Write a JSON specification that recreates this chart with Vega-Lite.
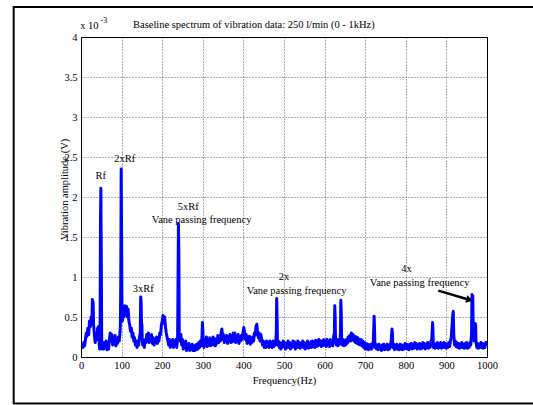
{
"$schema": "https://vega.github.io/schema/vega-lite/v6.json",
"width": 406, "height": 320,
"autosize": "none",
"padding": {"left": 81, "top": 37, "right": 46, "bottom": 48},
"background": "white",
"resolve": {"axis": {"x": "independent", "y": "independent"}},
"config": {
 "view": {"stroke": "black", "strokeWidth": 1},
 "font": "Liberation Serif",
 "axis": {"labelFont": "Liberation Serif", "labelFontSize": 10.5, "labelColor": "black", "titleFont": "Liberation Serif", "titleFontSize": 10.5, "titleFontWeight": "normal", "titleColor": "black", "grid": true, "gridColor": "#000000", "gridDash": [1, 2], "gridOpacity": 0.8, "gridWidth": 0.8, "domain": false, "ticks": false, "tickSize": 0, "labelPadding": 4, "labelFlush": false, "labelOverlap": false}
},
"datasets": {
 "one": [{}],
 "spectrum": [
{"f":3,"v":0.15},{"f":5,"v":0.12},{"f":7,"v":0.18},{"f":9,"v":0.14},{"f":11,"v":0.22},{"f":13,"v":0.3},{"f":15,"v":0.26},{"f":17,"v":0.36},{"f":19,"v":0.28},{"f":21,"v":0.45},{"f":23,"v":0.38},{"f":25,"v":0.5},{"f":27,"v":0.42},{"f":28,"v":0.72},{"f":30,"v":0.68},{"f":31,"v":0.4},{"f":33,"v":0.28},{"f":35,"v":0.18},{"f":37,"v":0.3},{"f":39,"v":0.22},{"f":41,"v":0.36},{"f":43,"v":0.38},{"f":45,"v":0.15},{"f":46,"v":0.1},{"f":47,"v":0.3},{"f":48,"v":1.74},{"f":49,"v":2.11},{"f":50,"v":1.2},{"f":51,"v":0.2},{"f":52,"v":0.1},
{"f":54,"v":0.15},{"f":56,"v":0.1},{"f":58,"v":0.18},{"f":60,"v":0.12},{"f":62,"v":0.2},{"f":64,"v":0.09},{"f":66,"v":0.15},{"f":68,"v":0.1},{"f":70,"v":0.22},{"f":72,"v":0.3},{"f":74,"v":0.2},{"f":76,"v":0.28},{"f":78,"v":0.15},{"f":80,"v":0.25},{"f":82,"v":0.18},{"f":84,"v":0.27},{"f":86,"v":0.14},{"f":88,"v":0.22},{"f":90,"v":0.17},{"f":92,"v":0.25},{"f":94,"v":0.2},{"f":96,"v":0.3},{"f":97,"v":0.4},{"f":98,"v":1.0},{"f":99,"v":2.35},{"f":100,"v":1.5},{"f":101,"v":0.5},
{"f":102,"v":0.45},{"f":104,"v":0.62},{"f":106,"v":0.5},{"f":108,"v":0.64},{"f":110,"v":0.55},{"f":112,"v":0.63},{"f":114,"v":0.5},{"f":116,"v":0.6},{"f":118,"v":0.45},{"f":120,"v":0.4},{"f":122,"v":0.32},{"f":124,"v":0.36},{"f":126,"v":0.25},{"f":128,"v":0.3},{"f":130,"v":0.2},{"f":132,"v":0.24},{"f":134,"v":0.15},{"f":136,"v":0.2},{"f":138,"v":0.12},{"f":140,"v":0.2},{"f":142,"v":0.15},{"f":144,"v":0.25},{"f":146,"v":0.3},{"f":147,"v":0.75},{"f":148,"v":0.7},{"f":149,"v":0.43},{"f":150,"v":0.4},{"f":151,"v":0.2},
{"f":152,"v":0.15},{"f":154,"v":0.2},{"f":156,"v":0.12},{"f":158,"v":0.22},{"f":160,"v":0.18},{"f":162,"v":0.28},{"f":164,"v":0.2},{"f":166,"v":0.3},{"f":168,"v":0.18},{"f":170,"v":0.26},{"f":172,"v":0.2},{"f":174,"v":0.28},{"f":176,"v":0.17},{"f":178,"v":0.24},{"f":180,"v":0.15},{"f":182,"v":0.22},{"f":184,"v":0.18},{"f":186,"v":0.25},{"f":188,"v":0.17},{"f":190,"v":0.22},{"f":192,"v":0.2},{"f":194,"v":0.3},{"f":196,"v":0.28},{"f":198,"v":0.4},{"f":200,"v":0.45},{"f":202,"v":0.52},{"f":204,"v":0.42},{"f":206,"v":0.5},{"f":208,"v":0.38},{"f":210,"v":0.3},{"f":212,"v":0.25},{"f":214,"v":0.2},{"f":216,"v":0.15},{"f":218,"v":0.22},{"f":220,"v":0.12},{"f":222,"v":0.2},{"f":224,"v":0.15},{"f":226,"v":0.22},{"f":228,"v":0.12},{"f":230,"v":0.2},{"f":232,"v":0.15},{"f":234,"v":0.22},{"f":236,"v":0.12},{"f":238,"v":0.25},{"f":240,"v":1.67},{"f":241,"v":1.3},{"f":242,"v":0.25},
{"f":244,"v":0.2},{"f":246,"v":0.28},{"f":248,"v":0.15},{"f":250,"v":0.22},{"f":252,"v":0.1},{"f":254,"v":0.18},{"f":256,"v":0.12},{"f":258,"v":0.2},{"f":260,"v":0.08},{"f":262,"v":0.15},{"f":264,"v":0.1},{"f":266,"v":0.17},{"f":268,"v":0.08},{"f":270,"v":0.14},{"f":272,"v":0.09},{"f":274,"v":0.16},{"f":276,"v":0.08},{"f":278,"v":0.13},{"f":280,"v":0.08},{"f":282,"v":0.15},{"f":284,"v":0.09},{"f":286,"v":0.16},{"f":288,"v":0.1},{"f":290,"v":0.18},{"f":292,"v":0.12},{"f":294,"v":0.2},{"f":296,"v":0.14},{"f":298,"v":0.25},{"f":299,"v":0.43},{"f":300,"v":0.35},{"f":301,"v":0.2},
{"f":303,"v":0.12},{"f":305,"v":0.22},{"f":307,"v":0.15},{"f":309,"v":0.25},{"f":311,"v":0.13},{"f":313,"v":0.22},{"f":315,"v":0.15},{"f":317,"v":0.24},{"f":319,"v":0.14},{"f":321,"v":0.22},{"f":323,"v":0.16},{"f":325,"v":0.25},{"f":327,"v":0.15},{"f":329,"v":0.23},{"f":331,"v":0.14},{"f":333,"v":0.22},{"f":335,"v":0.17},{"f":337,"v":0.27},{"f":339,"v":0.18},{"f":341,"v":0.25},{"f":343,"v":0.2},{"f":345,"v":0.3},{"f":347,"v":0.35},{"f":349,"v":0.22},{"f":351,"v":0.28},{"f":353,"v":0.18},{"f":355,"v":0.26},{"f":357,"v":0.2},{"f":359,"v":0.27},{"f":361,"v":0.17},{"f":363,"v":0.25},{"f":365,"v":0.2},{"f":367,"v":0.28},{"f":369,"v":0.18},{"f":371,"v":0.26},{"f":373,"v":0.19},{"f":375,"v":0.3},{"f":377,"v":0.2},{"f":379,"v":0.3},{"f":381,"v":0.18},{"f":383,"v":0.26},{"f":385,"v":0.2},{"f":387,"v":0.28},{"f":389,"v":0.17},{"f":391,"v":0.25},{"f":393,"v":0.2},{"f":395,"v":0.27},{"f":397,"v":0.22},{"f":399,"v":0.3},{"f":401,"v":0.37},{"f":403,"v":0.3},{"f":405,"v":0.22},{"f":407,"v":0.28},{"f":409,"v":0.17},{"f":411,"v":0.25},{"f":413,"v":0.18},{"f":415,"v":0.26},{"f":417,"v":0.16},{"f":419,"v":0.24},{"f":421,"v":0.18},{"f":423,"v":0.25},{"f":425,"v":0.2},{"f":427,"v":0.3},{"f":429,"v":0.27},{"f":431,"v":0.38},{"f":433,"v":0.41},{"f":435,"v":0.3},{"f":437,"v":0.24},{"f":439,"v":0.3},{"f":441,"v":0.2},{"f":443,"v":0.28},{"f":445,"v":0.22},{"f":447,"v":0.15},{"f":449,"v":0.2},{"f":451,"v":0.12},{"f":453,"v":0.18},{"f":455,"v":0.12},{"f":457,"v":0.2},{"f":459,"v":0.13},{"f":461,"v":0.18},{"f":463,"v":0.12},{"f":465,"v":0.2},{"f":467,"v":0.13},{"f":469,"v":0.18},{"f":471,"v":0.12},{"f":473,"v":0.2},{"f":475,"v":0.13},{"f":477,"v":0.18},{"f":479,"v":0.15},{"f":481,"v":0.3},{"f":482,"v":0.73},{"f":483,"v":0.5},{"f":484,"v":0.15},
{"f":486,"v":0.2},{"f":488,"v":0.12},{"f":490,"v":0.18},{"f":492,"v":0.1},{"f":494,"v":0.17},{"f":496,"v":0.12},{"f":498,"v":0.2},{"f":500,"v":0.13},{"f":502,"v":0.18},{"f":504,"v":0.1},{"f":506,"v":0.17},{"f":508,"v":0.12},{"f":510,"v":0.2},{"f":512,"v":0.12},{"f":514,"v":0.18},{"f":516,"v":0.1},{"f":518,"v":0.16},{"f":520,"v":0.12},{"f":522,"v":0.2},{"f":524,"v":0.13},{"f":526,"v":0.19},{"f":528,"v":0.1},{"f":530,"v":0.17},{"f":532,"v":0.12},{"f":534,"v":0.2},{"f":536,"v":0.12},{"f":538,"v":0.18},{"f":540,"v":0.11},{"f":542,"v":0.17},{"f":544,"v":0.13},{"f":546,"v":0.2},{"f":548,"v":0.12},{"f":550,"v":0.18},{"f":552,"v":0.1},{"f":554,"v":0.17},{"f":556,"v":0.12},{"f":558,"v":0.2},{"f":560,"v":0.11},{"f":562,"v":0.17},{"f":564,"v":0.12},{"f":566,"v":0.19},{"f":568,"v":0.12},{"f":570,"v":0.2},{"f":572,"v":0.13},{"f":574,"v":0.18},{"f":576,"v":0.12},{"f":578,"v":0.21},{"f":580,"v":0.13},{"f":582,"v":0.2},{"f":584,"v":0.14},{"f":586,"v":0.22},{"f":588,"v":0.15},{"f":590,"v":0.2},{"f":592,"v":0.13},{"f":594,"v":0.2},{"f":596,"v":0.14},{"f":598,"v":0.22},{"f":600,"v":0.15},{"f":602,"v":0.2},{"f":604,"v":0.13},{"f":606,"v":0.22},{"f":608,"v":0.15},{"f":610,"v":0.2},{"f":612,"v":0.13},{"f":614,"v":0.22},{"f":616,"v":0.15},{"f":618,"v":0.2},{"f":620,"v":0.14},{"f":622,"v":0.25},{"f":624,"v":0.3},{"f":625,"v":0.64},{"f":626,"v":0.5},{"f":627,"v":0.2},{"f":629,"v":0.15},{"f":631,"v":0.22},{"f":633,"v":0.14},{"f":635,"v":0.2},{"f":637,"v":0.16},{"f":639,"v":0.3},{"f":640,"v":0.71},{"f":641,"v":0.55},{"f":642,"v":0.2},
{"f":644,"v":0.15},{"f":646,"v":0.22},{"f":648,"v":0.14},{"f":650,"v":0.2},{"f":652,"v":0.15},{"f":654,"v":0.22},{"f":656,"v":0.17},{"f":658,"v":0.25},{"f":660,"v":0.2},{"f":662,"v":0.27},{"f":664,"v":0.2},{"f":666,"v":0.3},{"f":668,"v":0.22},{"f":670,"v":0.28},{"f":672,"v":0.2},{"f":674,"v":0.26},{"f":676,"v":0.18},{"f":678,"v":0.25},{"f":680,"v":0.17},{"f":682,"v":0.24},{"f":684,"v":0.16},{"f":686,"v":0.22},{"f":688,"v":0.15},{"f":690,"v":0.22},{"f":692,"v":0.14},{"f":694,"v":0.2},{"f":696,"v":0.12},{"f":698,"v":0.18},{"f":700,"v":0.1},{"f":702,"v":0.17},{"f":704,"v":0.1},{"f":706,"v":0.16},{"f":708,"v":0.09},{"f":710,"v":0.15},{"f":712,"v":0.1},{"f":714,"v":0.16},{"f":716,"v":0.1},{"f":718,"v":0.15},{"f":720,"v":0.2},{"f":722,"v":0.51},{"f":723,"v":0.35},{"f":724,"v":0.12},
{"f":726,"v":0.16},{"f":728,"v":0.1},{"f":730,"v":0.15},{"f":732,"v":0.09},{"f":734,"v":0.16},{"f":736,"v":0.1},{"f":738,"v":0.14},{"f":740,"v":0.08},{"f":742,"v":0.15},{"f":744,"v":0.1},{"f":746,"v":0.16},{"f":748,"v":0.09},{"f":750,"v":0.14},{"f":752,"v":0.1},{"f":754,"v":0.16},{"f":756,"v":0.09},{"f":758,"v":0.15},{"f":760,"v":0.1},{"f":762,"v":0.15},{"f":764,"v":0.2},{"f":766,"v":0.35},{"f":767,"v":0.3},{"f":768,"v":0.12},{"f":770,"v":0.16},{"f":772,"v":0.09},{"f":774,"v":0.15},{"f":776,"v":0.1},{"f":778,"v":0.16},{"f":780,"v":0.1},{"f":782,"v":0.14},{"f":784,"v":0.09},{"f":786,"v":0.16},{"f":788,"v":0.1},{"f":790,"v":0.15},{"f":792,"v":0.09},{"f":794,"v":0.14},{"f":796,"v":0.1},{"f":798,"v":0.17},{"f":800,"v":0.11},{"f":802,"v":0.16},{"f":804,"v":0.1},{"f":806,"v":0.15},{"f":808,"v":0.09},{"f":810,"v":0.16},{"f":812,"v":0.11},{"f":814,"v":0.17},{"f":816,"v":0.1},{"f":818,"v":0.15},{"f":820,"v":0.11},{"f":822,"v":0.18},{"f":824,"v":0.12},{"f":826,"v":0.17},{"f":828,"v":0.1},{"f":830,"v":0.15},{"f":832,"v":0.11},{"f":834,"v":0.17},{"f":836,"v":0.1},{"f":838,"v":0.16},{"f":840,"v":0.11},{"f":842,"v":0.18},{"f":844,"v":0.12},{"f":846,"v":0.17},{"f":848,"v":0.1},{"f":850,"v":0.15},{"f":852,"v":0.12},{"f":854,"v":0.18},{"f":856,"v":0.11},{"f":858,"v":0.16},{"f":860,"v":0.12},{"f":862,"v":0.2},{"f":864,"v":0.22},{"f":866,"v":0.43},{"f":867,"v":0.3},{"f":868,"v":0.12},{"f":870,"v":0.17},{"f":872,"v":0.11},{"f":874,"v":0.16},{"f":876,"v":0.12},{"f":878,"v":0.18},{"f":880,"v":0.11},{"f":882,"v":0.16},{"f":884,"v":0.12},{"f":886,"v":0.18},{"f":888,"v":0.11},{"f":890,"v":0.17},{"f":892,"v":0.12},{"f":894,"v":0.18},{"f":896,"v":0.12},{"f":898,"v":0.17},{"f":900,"v":0.11},{"f":902,"v":0.16},{"f":904,"v":0.12},{"f":906,"v":0.18},{"f":908,"v":0.13},{"f":910,"v":0.2},{"f":912,"v":0.25},{"f":914,"v":0.4},{"f":916,"v":0.55},{"f":917,"v":0.57},{"f":918,"v":0.3},{"f":920,"v":0.15},{"f":922,"v":0.2},{"f":924,"v":0.13},{"f":926,"v":0.18},{"f":928,"v":0.12},{"f":930,"v":0.17},{"f":932,"v":0.11},{"f":934,"v":0.16},{"f":936,"v":0.12},{"f":938,"v":0.18},{"f":940,"v":0.12},{"f":942,"v":0.16},{"f":944,"v":0.11},{"f":946,"v":0.17},{"f":948,"v":0.12},{"f":950,"v":0.18},{"f":952,"v":0.11},{"f":954,"v":0.16},{"f":956,"v":0.12},{"f":958,"v":0.18},{"f":960,"v":0.15},{"f":962,"v":0.3},{"f":963,"v":0.78},{"f":965,"v":0.76},{"f":966,"v":0.35},{"f":968,"v":0.2},{"f":970,"v":0.3},{"f":971,"v":0.42},{"f":972,"v":0.4},{"f":973,"v":0.18},{"f":975,"v":0.12},{"f":977,"v":0.17},{"f":979,"v":0.11},{"f":981,"v":0.16},{"f":983,"v":0.12},{"f":985,"v":0.18},{"f":987,"v":0.12},{"f":989,"v":0.17},{"f":991,"v":0.11},{"f":993,"v":0.16},{"f":995,"v":0.12},{"f":997,"v":0.18},{"f":999,"v":0.14}
 ],
 "labels": [
  {"f": 48.5, "v": 2.26, "t": "Rf"},
  {"f": 108, "v": 2.47, "t": "2xRf"},
  {"f": 153.5, "v": 0.85, "t": "3xRf"},
  {"f": 264, "v": 1.88, "t": "5xRf"},
  {"f": 297, "v": 1.71, "t": "Vane passing frequency"},
  {"f": 500, "v": 1.0, "t": "2x"},
  {"f": 531, "v": 0.825, "t": "Vane passing frequency"},
  {"f": 802, "v": 1.1, "t": "4x"},
  {"f": 834, "v": 0.92, "t": "Vane passing frequency"}
 ]
},
"layer": [
 {
  "data": {"name": "spectrum"},
  "mark": {"type": "line", "color": "#0000ff", "strokeWidth": 3, "strokeJoin": "round"},
  "encoding": {
   "x": {"field": "f", "type": "quantitative", "scale": {"domain": [0, 1000], "nice": false},
         "axis": {"title": "Frequency(Hz)", "values": [0,100,200,300,400,500,600,700,800,900,1000], "format": "d", "grid": true, "labelFont": "Liberation Serif", "titleFont": "Liberation Serif", "labelPadding": 3, "titleY": 23, "titleBaseline": "middle"}},
   "y": {"field": "v", "type": "quantitative", "scale": {"domain": [0, 4], "nice": false},
         "axis": {"title": "Vibration amplitude (V)", "values": [0,0.5,1,1.5,2,2.5,3,3.5,4], "format": "~g", "grid": true, "labelFont": "Liberation Serif", "titleFont": "Liberation Serif", "titleX": -17, "titleY": 152, "titleBaseline": "middle", "titleAngle": -90}}
  }
 },
 {
  "data": {"name": "one"},
  "mark": {"type": "rect", "filled": false, "stroke": "black", "strokeWidth": 2},
  "encoding": {
   "x": {"datum": -165.8, "type": "quantitative", "axis": null},
   "x2": {"datum": 1150},
   "y": {"datum": 4.375, "type": "quantitative", "axis": null},
   "y2": {"datum": -0.581}
  }
 },
 {
  "data": {"name": "labels"},
  "mark": {"type": "text", "font": "Liberation Serif", "fontSize": 10.5, "color": "black", "align": "center", "baseline": "middle"},
  "encoding": {
   "x": {"field": "f", "type": "quantitative", "axis": null},
   "y": {"field": "v", "type": "quantitative", "axis": null},
   "text": {"field": "t"}
  }
 },
 {
  "data": {"name": "one"},
  "mark": {"type": "rule", "color": "black", "strokeWidth": 2.5},
  "encoding": {
   "x": {"datum": 880, "type": "quantitative", "axis": null},
   "x2": {"datum": 952},
   "y": {"datum": 0.83, "type": "quantitative", "axis": null},
   "y2": {"datum": 0.722}
  }
 },
 {
  "data": {"name": "one"},
  "mark": {"type": "point", "shape": "triangle-right", "filled": true, "color": "black", "size": 60, "angle": 16, "opacity": 1},
  "encoding": {
   "x": {"datum": 957, "type": "quantitative", "axis": null},
   "y": {"datum": 0.714, "type": "quantitative", "axis": null}
  }
 },
 {
  "data": {"name": "one"},
  "mark": {"type": "text", "font": "Liberation Serif", "fontSize": 10.5, "color": "black", "align": "left", "baseline": "middle", "text": "Baseline spectrum of vibration data: 250 l/min (0 - 1kHz)"},
  "encoding": {
   "x": {"datum": 128, "type": "quantitative", "axis": null},
   "y": {"datum": 4.15, "type": "quantitative", "axis": null}
  }
 },
 {
  "data": {"name": "one"},
  "mark": {"type": "text", "font": "Liberation Serif", "fontSize": 10.5, "color": "black", "align": "left", "baseline": "middle", "text": "x 10"},
  "encoding": {
   "x": {"datum": -2, "type": "quantitative", "axis": null},
   "y": {"datum": 4.14, "type": "quantitative", "axis": null}
  }
 },
 {
  "data": {"name": "one"},
  "mark": {"type": "text", "font": "Liberation Serif", "fontSize": 8, "color": "black", "align": "left", "baseline": "middle", "text": "-3"},
  "encoding": {
   "x": {"datum": 48, "type": "quantitative", "axis": null},
   "y": {"datum": 4.2, "type": "quantitative", "axis": null}
  }
 }
]
}
